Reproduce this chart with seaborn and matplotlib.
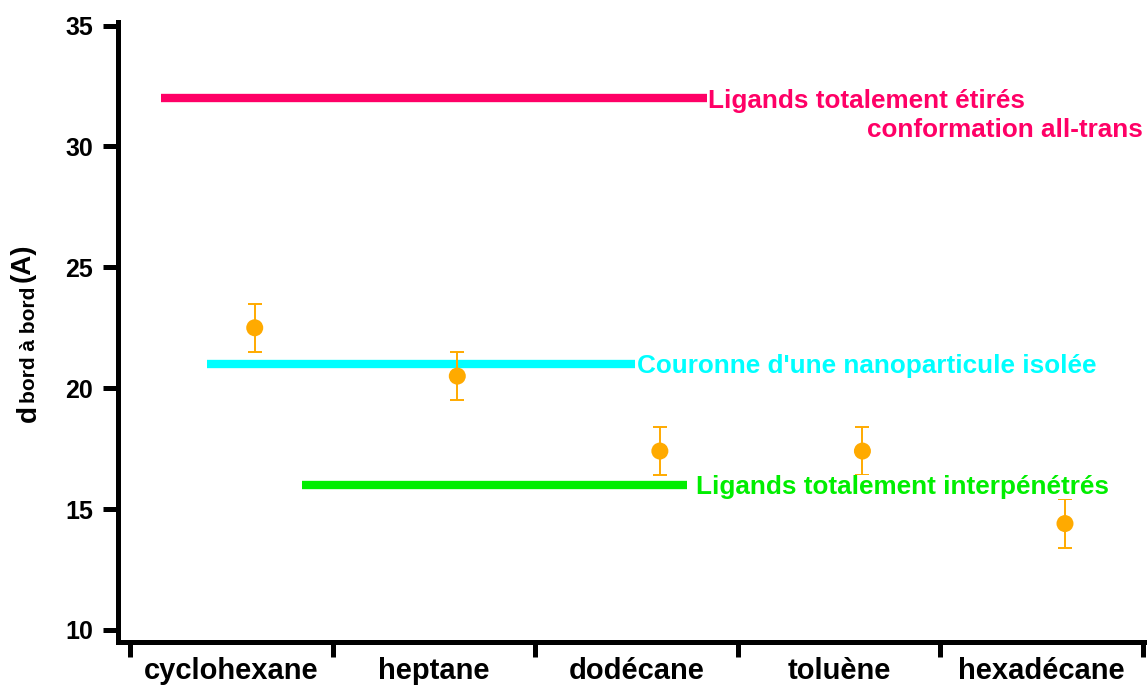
import numpy as np
import pandas as pd
import matplotlib
matplotlib.use("Agg")
import matplotlib.pyplot as plt
import seaborn as sns

# Solvents and measured edge-to-edge distances (Å)
solvants = ["cyclohexane", "heptane", "dodécane", "toluène", "hexadécane"]
distance = [22.5, 20.5, 17.4, 17.4, 14.4]
erreur = [1.0, 1.0, 1.0, 1.0, 1.0]

# Reference levels: (label lines, value, x start, x end, colour)
ref_labels = [["Ligands totalement étirés", "conformation all-trans"],
              ["Couronne d'une nanoparticule isolée"],
              ["Ligands totalement interpénétrés"]]
ref_values = [32.0, 21.0, 16.0]
ref_x0 = [-0.35, -0.12, 0.35]
ref_x1 = [2.35, 1.99, 2.25]
ref_colors = ["#FF0066", "#00FFFF", "#00EE00"]
label_gap = [0.005, 0.01, 0.045]

sns.set_theme(style="ticks")
plt.rcParams["font.family"] = ["Liberation Sans", "DejaVu Sans"]
plt.rcParams["font.weight"] = "bold"
for k in ["text.color", "axes.labelcolor", "xtick.color", "ytick.color"]:
    plt.rcParams[k] = "black"

W, H = 1147, 688
fig = plt.figure(figsize=(W / 100, H / 100), dpi=100)
ax = fig.add_axes([118 / W, 1 - 642 / H, (1145 - 118) / W, 620 / H])

offset = 0.115
pos = np.arange(len(solvants))
df = pd.DataFrame({"x": pos + offset, "d": distance, "err": erreur})

# Horizontal reference levels with their captions
for lab, v, x0, x1, c, g in zip(ref_labels, ref_values, ref_x0, ref_x1,
                                ref_colors, label_gap):
    ax.hlines(v, x0, x1, color=c, linewidth=6, zorder=2)
    ax.text(x1 + g, v - 0.1, lab[0], color=c, fontsize=18.8, fontweight="bold",
            ha="left", va="center", zorder=5,
            bbox=dict(facecolor="white", edgecolor="none", pad=0))
    if len(lab) > 1:
        ax.text(4.5, v - 1.3, lab[1], color=c, fontsize=18.8, fontweight="bold",
                ha="right", va="center", zorder=5)

# Measurements with error bars
ax.errorbar(df["x"], df["d"], yerr=df["err"], fmt="none", ecolor="#FFAA00",
            elinewidth=1.4, capsize=4.7, capthick=1.4, zorder=3)
sns.scatterplot(data=df, x="x", y="d", color="#FFAA00", s=150, edgecolor="none",
                ax=ax, zorder=4, legend=False)

ax.set_xlim(-0.56, 4.51)
ax.set_ylim(9.5, 35.15)
ax.set_yticks([10, 15, 20, 25, 30, 35])
ax.set_xticks(np.arange(-0.5, len(solvants), 1.0))
ax.set_xticklabels([])
ax.set_xticks(pos, minor=True)
ax.set_xticklabels(solvants, minor=True)
ax.tick_params(axis="x", which="minor", length=0, labelsize=21, pad=11)
ax.tick_params(axis="x", which="major", length=11, width=3.6, direction="out")
ax.tick_params(axis="y", length=11, width=3.6, labelsize=18, pad=7)
for lbl in ax.get_xticklabels(minor=True) + ax.get_yticklabels():
    lbl.set_fontweight("bold")

for s in ["top", "right"]:
    ax.spines[s].set_visible(False)
for s in ["left", "bottom"]:
    ax.spines[s].set_linewidth(3.6)
    ax.spines[s].set_color("black")

ax.set_xlabel("")
ax.set_ylabel("")

# Y-axis title: d with subscript "bord à bord", then the unit
def px(x, y):
    return x / W, 1 - y / H

title_parts = [("d", 20, 36, 422), ("bord à bord", 15, 35, 403), ("(A)", 20, 30, 282)]
for txt, size, bx, by in title_parts:
    fig.text(*px(bx, by), txt, rotation=90, rotation_mode="anchor",
             ha="left", va="baseline", fontsize=size, fontweight="bold")

fig.savefig("out.png", dpi=100)
